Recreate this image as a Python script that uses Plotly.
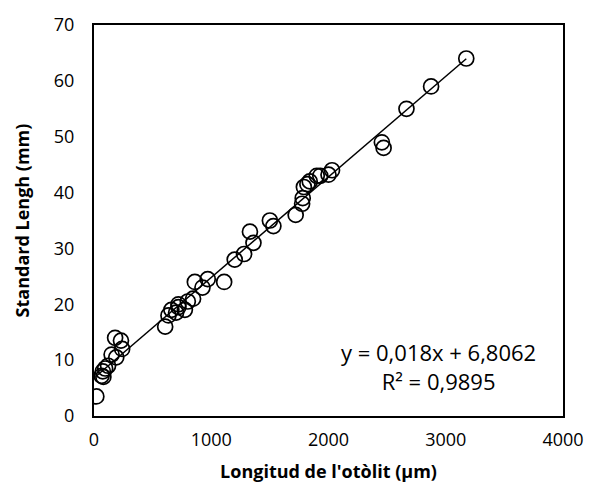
import plotly.graph_objects as go

otolith_um = [20, 65, 80, 75, 95, 120, 150, 180, 190, 230, 240,
              607, 635, 660, 700, 720, 720, 775, 800, 845, 860, 925, 970,
              1110, 1200, 1280, 1330, 1360, 1500, 1530,
              1720, 1775, 1780, 1790, 1820, 1840, 1900, 1930, 2000, 2030,
              2455, 2470, 2665, 2875, 3175]
length_mm = [3.5, 7.2, 7.0, 8.0, 8.5, 9.0, 11.0, 14.0, 10.5, 13.5, 12.0,
             16.0, 18.0, 19.0, 18.5, 19.5, 20.0, 19.0, 20.5, 21.0, 24.0, 23.0, 24.5,
             24.0, 28.0, 29.0, 33.0, 31.0, 35.0, 34.0,
             36.0, 38.0, 39.0, 41.0, 41.5, 42.0, 43.0, 43.0, 43.2, 44.0,
             49.0, 48.0, 55.0, 59.0, 64.0]
slope = 0.018
intercept = 6.8062
eq_text = "y = 0,018x + 6,8062<br>R² = 0,9895"
x_ticks = [0, 1000, 2000, 3000, 4000]
y_ticks = [0, 10, 20, 30, 40, 50, 60, 70]

trend_x = [min(otolith_um), max(otolith_um)]
trend_y = [slope * v + intercept for v in trend_x]

FONT = "Open Sans"

fig = go.Figure()
fig.add_trace(go.Scatter(x=trend_x, y=trend_y, mode="lines",
                         line=dict(color="black", width=1.5), showlegend=False))
fig.add_trace(go.Scatter(x=otolith_um, y=length_mm, mode="markers",
                         marker=dict(symbol="circle-open", size=15,
                                     line=dict(color="black", width=1.7), color="black"),
                         showlegend=False))

fig.add_annotation(x=2940, y=8.9, xref="x", yref="y", text=eq_text,
                   showarrow=False, align="center",
                   font=dict(family=FONT, size=22, color="black"))

fig.update_layout(
    width=596, height=494,
    margin=dict(l=94, r=23, t=16, b=78),
    paper_bgcolor="white", plot_bgcolor="white",
    font=dict(family=FONT, color="black"),
    xaxis=dict(range=[0, 4000], tickvals=x_ticks, showgrid=False, zeroline=False,
               showline=True, linecolor="black", linewidth=2, mirror=True,
               ticks="", tickfont=dict(size=18, family=FONT), ticklabelstandoff=6,
               title=dict(text="<b>Longitud de l'otòlit (µm)</b>",
                          font=dict(size=18, family=FONT), standoff=16)),
    yaxis=dict(range=[0, 70], tickvals=y_ticks, showgrid=False, zeroline=False,
               showline=True, linecolor="black", linewidth=2, mirror=True,
               ticks="", tickfont=dict(size=18, family=FONT), ticklabelstandoff=14,
               title=dict(text="<b>Standard Lengh (mm)</b>",
                          font=dict(size=18, family=FONT), standoff=20)),
)

fig.write_html("out.html")
